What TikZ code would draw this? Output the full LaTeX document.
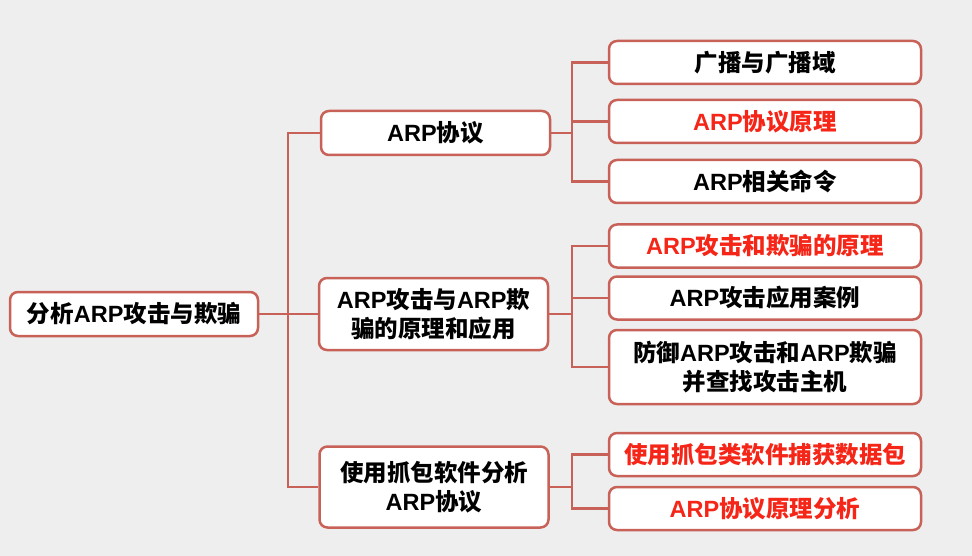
\documentclass[tikz,border=0pt]{standalone}
\usepackage{fontspec}
\setmainfont{Noto Sans CJK SC}
\newfontfamily\latinsans{Liberation Sans}
\usepackage{tikz}
\usetikzlibrary{positioning}
\pgfdeclarelayer{background}
\pgfdeclarelayer{foreground}
\pgfsetlayers{background,main,foreground}
\definecolor{linered}{RGB}{200,98,88}
\definecolor{hotred}{RGB}{245,38,24}
\definecolor{paper}{RGB}{238,238,238}
\newcommand{\arpTxt}{{\latinsans\bfseries ARP}}

\begin{document}
\begin{tikzpicture}[x=1pt,y=-1pt,
							box/.style={draw=linered, line width=2.5pt, rounded corners=8pt, fill=white, align=center, inner sep=0pt, font=\bfseries\fontsize{23.5}{29}\selectfont},
							rootbox/.style={box, minimum width=248pt, minimum height=44pt},
							midbox/.style={box, minimum width=229pt},
							leafbox/.style={box, minimum width=312pt, minimum height=43pt},
							redtext/.style={text=hotred},
							link/.style={draw=linered, line width=2.5pt},
							]
							\useasboundingbox (0,0) rectangle (972,556);
							%Nodes
							\node[rootbox]                      (root) 	at	(134,314)   {分析\arpTxt 攻击与欺骗};
							\node[midbox, minimum height=44pt]  (m1) 	at	(435.5,133) {\arpTxt 协议};
							\node[midbox, minimum height=72pt]  (m2) 	at	(433.5,314) {\arpTxt 攻击与\arpTxt 欺\\骗的原理和应用};
							\node[midbox, minimum height=81pt]  (m3) 	at	(434,487)   {使用抓包软件分析\\\arpTxt 协议};
							\node[leafbox]                      (r1) 	at	(765,62.5)  {广播与广播域};
							\node[leafbox, redtext]             (r2) 	at	(765,121.5) {\arpTxt 协议原理};
							\node[leafbox]                      (r3) 	at	(765,181.5) {\arpTxt 相关命令};
							\node[leafbox, redtext]             (r4) 	at	(765,246)   {\arpTxt 攻击和欺骗的原理};
							\node[leafbox]                      (r5) 	at	(765,298)   {\arpTxt 攻击应用案例};
							\node[leafbox, minimum height=74pt] (r6) 	at	(765,367)   {防御\arpTxt 攻击和\arpTxt 欺骗\\并查找攻击主机};
							\node[leafbox, redtext]             (r7) 	at	(765,454.5) {使用抓包类软件捕获数据包};
							\node[leafbox, redtext]             (r8) 	at	(765,508.5) {\arpTxt 协议原理分析};
							\coordinate (j0) at (288,314);
							\coordinate (j1) at (572,133);
							\coordinate (j2) at (572,314);
							\coordinate (j3) at (572,487);
							
							\begin{pgfonlayer}{background}
							\fill[paper] (0,0) rectangle (972,556);
							%Lines
							\draw[link] (root.east) -- (j0) |- (m1.west);
							\draw[link] (j0) |- (m3.west);
							\draw[link] (j0) -- (m2.west);
							\draw[link] (m1.east) -- (j1) |- (r1.west);
							\draw[link] (j1) |- (r2.west);
							\draw[link] (j1) |- (r3.west);
							\draw[link] (m2.east) -- (j2) |- (r4.west);
							\draw[link] (j2) |- (r5.west);
							\draw[link] (j2) |- (r6.west);
							\draw[link] (m3.east) -- (j3) |- (r7.west);
							\draw[link] (j3) |- (r8.west);
							\end{pgfonlayer}
						\end{tikzpicture}
\end{document}
